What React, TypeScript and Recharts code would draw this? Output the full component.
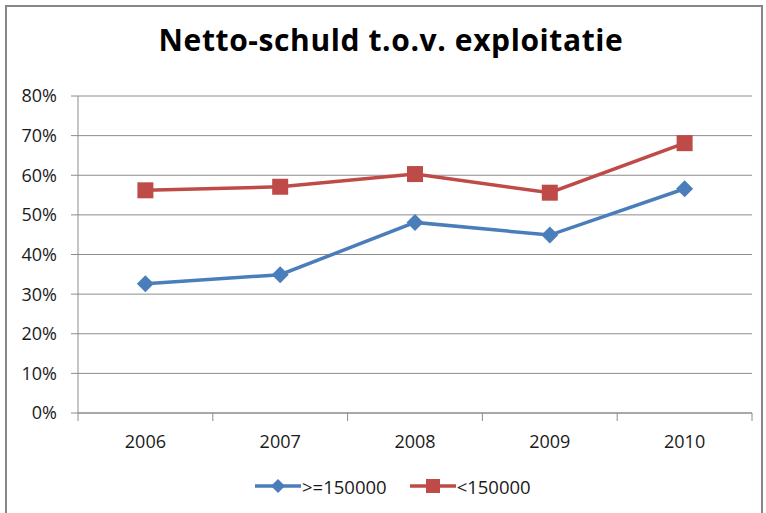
import React from 'react';
import { LineChart, Line, XAxis, YAxis, CartesianGrid, Legend } from 'recharts';

const CATEGORIES = ['2006', '2007', '2008', '2009', '2010'];
const LARGE = [32.6, 34.9, 48.1, 44.9, 56.6];
const SMALL = [56.2, 57.1, 60.3, 55.6, 68.1];
const Y_TICKS = [0, 10, 20, 30, 40, 50, 60, 70, 80];
const SERIES_NAMES = ['>=150000', '<150000'];

const data = CATEGORIES.map((year, i) => ({ year, large: LARGE[i], small: SMALL[i] }));

const W = 766;
const H = 513;
const Y_AXIS_W = 78;
const RIGHT = 14;
const X_TICK_MARGIN = 22;
const HALF_BAND = (W - Y_AXIS_W - RIGHT) / CATEGORIES.length / 2;

const BLUE = '#4A7EBB';
const RED = '#BE4B48';
const GRID = '#8C8C8C';
const FONT = '"Open Sans", Lato, sans-serif';

const Diamond = ({ cx, cy, r = 8.5 }: any) => (
  <path d={`M${cx},${cy - r}L${cx + r},${cy}L${cx},${cy + r}L${cx - r},${cy}Z`} fill={BLUE} />
);

const Square = ({ cx, cy, s = 16 }: any) => (
  <rect x={cx - s / 2} y={cy - s / 2} width={s} height={s} fill={RED} />
);

const XTick = (props: any) => {
  const { x, y, payload, index } = props;
  const top = y - X_TICK_MARGIN;
  return (
    <g>
      <line x1={x - HALF_BAND} x2={x - HALF_BAND} y1={top} y2={top + 8} stroke={GRID} />
      {index === CATEGORIES.length - 1 && (
        <line x1={x + HALF_BAND} x2={x + HALF_BAND} y1={top} y2={top + 8} stroke={GRID} />
      )}
      <text x={x} y={y} dy="0.71em" textAnchor="middle" fill="#1a1a1a" fontSize={18} fontFamily={FONT}>
        {payload.value}
      </text>
    </g>
  );
};

const LegendItem = ({ name, color, square }: any) => (
  <div style={{ display: 'flex', alignItems: 'center', height: 18 }}>
    <svg width={46} height={18}>
      <line x1={0} x2={46} y1={9} y2={9} stroke={color} strokeWidth={3.5} />
      {square ? <Square cx={23} cy={9} s={14} /> : <Diamond cx={23} cy={9} r={7} />}
    </svg>
    <span style={{ fontSize: 18.5, color: '#1a1a1a', fontFamily: FONT, marginLeft: 1 }}>{name}</span>
  </div>
);

const ChartLegend = () => (
  <div style={{ height: 40, paddingTop: 4, boxSizing: 'border-box', display: 'flex', paddingLeft: 255 }}>
    <LegendItem name={SERIES_NAMES[0]} color={BLUE} />
    <div style={{ width: 23 }} />
    <LegendItem name={SERIES_NAMES[1]} color={RED} square />
  </div>
);

export default function App() {
  return (
    <div style={{ position: 'absolute', left: 0, top: 0, width: W, height: H, background: '#fff', overflow: 'hidden', fontFamily: FONT }}>
      <div style={{ position: 'absolute', left: 5, top: 5, width: 754, height: 560, border: '2px solid #878787' }} />
      <div
        style={{
          position: 'absolute', left: 8, top: 20, width: W, textAlign: 'center',
          fontSize: 30, fontWeight: 700, lineHeight: '40px', color: '#000', letterSpacing: 0.6,
        }}
      >
        Netto-schuld t.o.v. exploitatie
      </div>
      <LineChart width={W} height={H} data={data} margin={{ top: 96, right: RIGHT, left: 0, bottom: 0 }}>
        <CartesianGrid vertical={false} stroke={GRID} />
        <XAxis
          dataKey="year"
          scale="band"
          height={60}
          axisLine={{ stroke: GRID }}
          tickLine={false}
          tickSize={0}
          tickMargin={X_TICK_MARGIN}
          tick={<XTick />}
          interval={0}
        />
        <YAxis
          width={Y_AXIS_W}
          domain={[0, 80]}
          ticks={Y_TICKS}
          tickFormatter={(v: number) => `${v}%`}
          axisLine={{ stroke: GRID }}
          tickLine={{ stroke: GRID }}
          tickSize={7}
          tickMargin={14}
          tick={{ fill: '#1a1a1a', fontSize: 18, fontFamily: FONT }}
        />
        <Legend verticalAlign="bottom" content={<ChartLegend />} wrapperStyle={{ left: 0, width: W }} />
        <Line
          dataKey="large"
          name={SERIES_NAMES[0]}
          stroke={BLUE}
          strokeWidth={3.5}
          dot={(p: any) => <Diamond key={p.index} cx={p.cx} cy={p.cy} />}
          activeDot={false}
          isAnimationActive={false}
        />
        <Line
          dataKey="small"
          name={SERIES_NAMES[1]}
          stroke={RED}
          strokeWidth={3.5}
          dot={(p: any) => <Square key={p.index} cx={p.cx} cy={p.cy} />}
          activeDot={false}
          isAnimationActive={false}
        />
      </LineChart>
    </div>
  );
}
